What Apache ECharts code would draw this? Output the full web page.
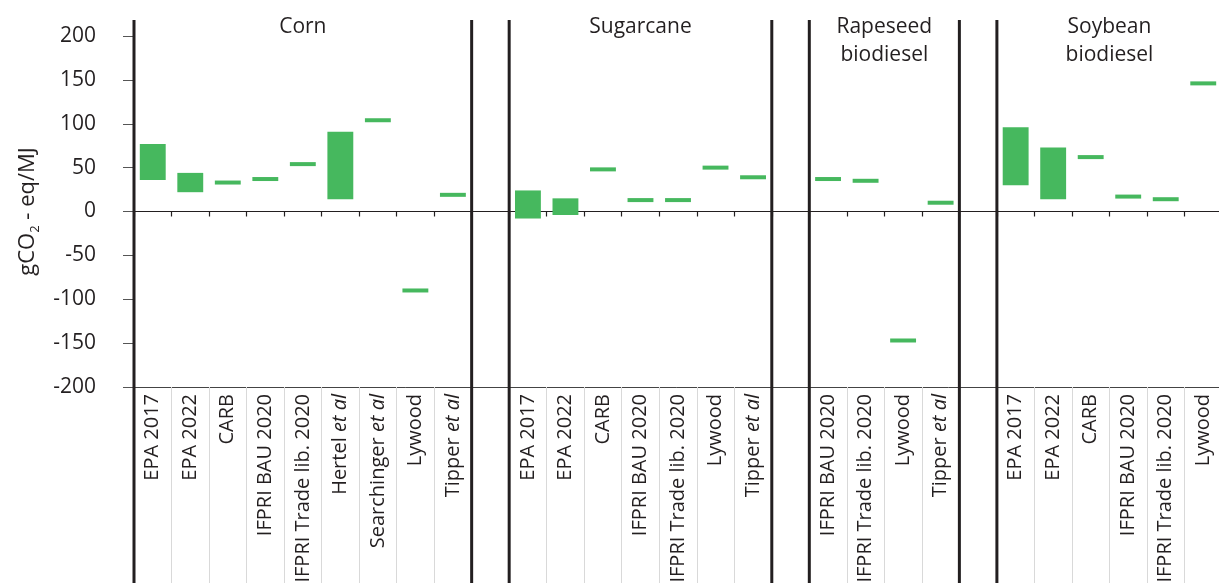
<!DOCTYPE html>
<html>
<head>
<meta charset="utf-8">
<script src="https://cdn.jsdelivr.net/npm/echarts@6/dist/echarts.min.js"></script>
<style>
html,body{margin:0;padding:0;background:#ffffff;}
#chart{width:1219px;height:583px;}
</style>
</head>
<body>
<div id="chart"></div>
<script>
// ---- data ----
const categories = [
  'EPA 2017','EPA 2022','CARB','IFPRI BAU 2020','IFPRI Trade lib. 2020','Hertel et al','Searchinger et al','Lywood','Tipper et al',
  '',
  'EPA 2017','EPA 2022','CARB','IFPRI BAU 2020','IFPRI Trade lib. 2020','Lywood','Tipper et al',
  '',
  'IFPRI BAU 2020','IFPRI Trade lib. 2020','Lywood','Tipper et al',
  '',
  'EPA 2017','EPA 2022','CARB','IFPRI BAU 2020','IFPRI Trade lib. 2020','Lywood'
];
const lowValues = [
  36, 22, 33, 37, 54, 14, 104, -90, 19,
  null,
  -8, -4, 48, 13, 13, 50, 39,
  null,
  37, 35, -147, 10,
  null,
  30, 14, 62, 17, 14, 146
];
const highValues = [
  77, 44, 33, 37, 54, 91, 104, -90, 19,
  null,
  24, 15, 48, 13, 13, 50, 39,
  null,
  37, 35, -147, 10,
  null,
  96, 73, 62, 17, 14, 146
];
const groupNames = ['Corn', 'Sugarcane', 'Rapeseed\nbiodiesel', 'Soybean\nbiodiesel'];
const groupStart = [0, 10, 18, 23];
const groupSize = [9, 7, 4, 6];
const yMin = -200, yMax = 200, yInterval = 50;

// ---- build ----
const FONT = '"Open Sans", "Noto Sans", sans-serif';
const INK = '#231f20';
const GREEN = '#46b85e';

const rangeData = [];
categories.forEach((c, i) => {
  if (lowValues[i] !== null && lowValues[i] !== undefined) {
    rangeData.push([i, lowValues[i], highValues[i]]);
  }
});

const sepData = [];
groupStart.forEach((s, g) => {
  sepData.push([s]);
  const end = s + groupSize[g];
  if (end < categories.length) sepData.push([end]);
});

const titleData = groupStart.map((s, g) => [s, groupSize[g], g]);

function renderRange(params, api) {
  const idx = api.value(0), lo = api.value(1), hi = api.value(2);
  const band = api.size([1, 0])[0];
  const w = band * 0.69;
  const pHi = api.coord([idx, hi]);
  const pLo = api.coord([idx, lo]);
  let y = pHi[1], h = pLo[1] - pHi[1];
  if (h < 4) {
    const c = (pHi[1] + pLo[1]) / 2;
    y = c - 2; h = 4;
  }
  return {
    type: 'rect',
    shape: { x: pHi[0] - w / 2, y: y, width: w, height: h },
    style: { fill: GREEN }
  };
}

function renderSep(params, api) {
  const idx = api.value(0);
  const band = api.size([1, 0])[0];
  const x = api.coord([idx, 0])[0] - band / 2;
  const cs = params.coordSys;
  return {
    type: 'line',
    shape: { x1: x, y1: cs.y - 16, x2: x, y2: api.getHeight() },
    style: { stroke: INK, lineWidth: 3 }
  };
}

function renderTitle(params, api) {
  const s = api.value(0), n = api.value(1), g = api.value(2);
  const band = api.size([1, 0])[0];
  const x = api.coord([s, 0])[0] - band / 2 + band * n / 2;
  const cs = params.coordSys;
  return {
    type: 'text',
    style: {
      text: groupNames[g], x: x, y: cs.y - 23,
      align: 'center', verticalAlign: 'top',
      fontSize: 21, fontFamily: FONT, fill: INK, lineHeight: 28
    }
  };
}

const chart = echarts.init(document.getElementById('chart'));
chart.setOption({
  animation: false,
  backgroundColor: '#ffffff',
  grid: { left: 134, width: 1088, top: 36, bottom: 196, containLabel: false, outerBoundsMode: 'none' },
  xAxis: [
    {
      type: 'category',
      data: categories,
      position: 'bottom',
      axisLine: { onZero: false, lineStyle: { color: '#444444', width: 1 } },
      axisTick: { show: true, interval: 0, length: 200, lineStyle: { color: '#d9d9d9', width: 1 } },
      axisLabel: {
        interval: 0, rotate: 90, margin: 7,
        fontSize: 20, fontFamily: FONT, color: INK,
        formatter: v => v.replace(' et al', ' {i|et al}'),
        rich: { i: { fontStyle: 'italic', fontSize: 20, fontFamily: FONT, color: INK } }
      },
      splitLine: { show: false }
    },
    {
      type: 'category',
      data: categories,
      position: 'bottom',
      axisLine: { onZero: true, lineStyle: { color: INK, width: 1.2 } },
      axisTick: { show: true, interval: 0, length: 5, lineStyle: { color: INK, width: 1.2 } },
      axisLabel: { show: false },
      splitLine: { show: false }
    }
  ],
  yAxis: {
    type: 'value',
    min: yMin, max: yMax, interval: yInterval,
    name: 'gCO{sub|2} - eq/MJ',
    nameLocation: 'middle',
    nameGap: 95,
    nameTextStyle: {
      fontSize: 22, fontFamily: FONT, color: INK,
      rich: { sub: { fontSize: 13, fontFamily: FONT, color: INK, verticalAlign: 'bottom', padding: [0, 0, -3, 0] } }
    },
    axisLine: { show: false },
    axisTick: { show: true, length: 11, lineStyle: { color: '#555555', width: 1 } },
    axisLabel: { margin: 38, fontSize: 21, fontFamily: FONT, color: INK },
    splitLine: { show: false }
  },
  series: [
    {
      type: 'custom', name: 'range', xAxisIndex: 0,
      renderItem: renderRange, data: rangeData,
      encode: { x: 0, y: [1, 2] }, z: 3
    },
    {
      type: 'custom', name: 'separators', xAxisIndex: 0,
      renderItem: renderSep, data: sepData, clip: false,
      encode: { x: 0 }, z: 10, silent: true
    },
    {
      type: 'custom', name: 'titles', xAxisIndex: 0,
      renderItem: renderTitle, data: titleData, clip: false,
      encode: { x: 0 }, z: 10, silent: true
    }
  ]
});
</script>
</body>
</html>
